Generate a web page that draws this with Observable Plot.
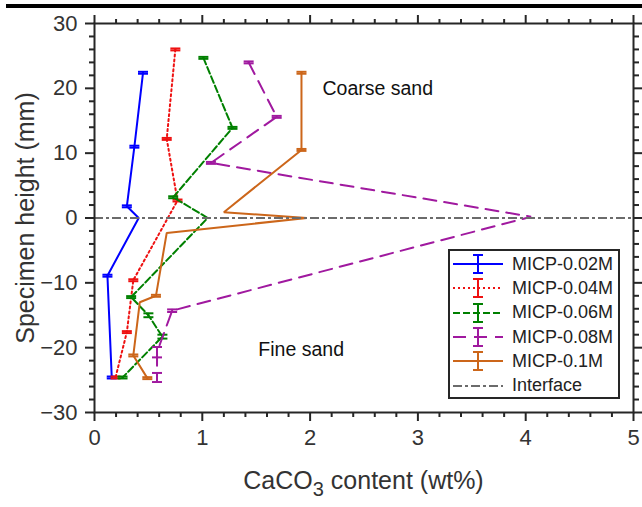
<!DOCTYPE html>
<html>
<head>
<meta charset="utf-8">
<script src="https://cdn.jsdelivr.net/npm/d3@7"></script>
<script src="https://cdn.jsdelivr.net/npm/@observablehq/plot@0.6"></script>
<style>
  body { margin: 0; background: #fff; font-family: "Liberation Sans", Arial, sans-serif; }
  #wrap { position: relative; width: 642px; height: 507px; overflow: hidden; background: #fff; }
  #wrap > svg { position: absolute; left: 0; top: 0; }
  .rule-top { position: absolute; left: 6px; top: 4px; width: 636px; height: 4px; background: #000; }
  .ytitle { position: absolute; left: 25px; top: 218px; transform: translate(-50%, -50%) rotate(-90deg);
            white-space: nowrap; font-size: 25px; line-height: 1; color: #333; }
  .xtitle { position: absolute; left: 363.5px; top: 468px; transform: translateX(-50%);
            white-space: nowrap; font-size: 25px; line-height: 1; color: #333; }
  .xtitle .sub { font-size: 0.8em; position: relative; top: 0.35em; }
  .legend { position: absolute; left: 448px; top: 249px; width: 172px; height: 150px; box-sizing: border-box;
            border: 2px solid #262626; background: #fff; padding-top: 1px; }
  .legend .row { height: 24.3px; display: flex; align-items: center; font-size: 18px; color: #222; }
  .legend .row svg { display: block; flex: none; margin-left: 3px; margin-right: 9px; }
</style>
</head>
<body>
<div id="wrap"></div>
<script>
// Concentration series and their CaCO3 profiles along the specimen height
const seriesNames = ["MICP-0.02M", "MICP-0.04M", "MICP-0.06M", "MICP-0.08M", "MICP-0.1M"];

// CaCO3 content (wt%) and height (mm) of each measured slice; err = half error bar (mm), null = no bar
const content002 = [0.45, 0.37, 0.30, 0.41, 0.12, 0.16];
const height002  = [22.4, 11.0, 1.8, 0, -8.9, -24.6];
const err002     = [0.15, 0.15, 0.15, null, 0.15, 0.15];

const content004 = [0.75, 0.67, 0.77, 0.36, 0.30, 0.195];
const height004  = [26.0, 12.2, 2.7, -9.6, -17.6, -24.6];
const err004     = [0.15, 0.15, 0.15, 0.15, 0.15, 0.15];

const content006 = [1.01, 1.28, 0.73, 1.05, 0.34, 0.50, 0.63, 0.26];
const height006  = [24.7, 13.9, 3.2, 0, -12.2, -15.0, -18.3, -24.6];
const err006     = [0.15, 0.15, 0.15, null, 0.15, 0.3, 0.3, 0.15];

const content008 = [1.43, 1.69, 1.08, 4.05, 0.72, 0.58, 0.58];
const height008  = [24.0, 15.6, 8.5, 0.2, -14.3, -20.7, -24.6];
const err008     = [0.15, 0.15, 0.15, null, 0.2, 0.8, 0.7];

const content01 = [1.92, 1.92, 1.20, 1.97, 0.67, 0.57, 0.42, 0.36, 0.49];
const height01  = [22.4, 10.5, 0.9, 0, -2.3, -12.0, -13.0, -21.2, -24.7];
const err01     = [0.15, 0.15, null, null, null, 0.15, null, 0.15, 0.15];

// Axis ticks
const xMajor = [0, 1, 2, 3, 4, 5];
const yMajor = [-30, -20, -10, 0, 10, 20, 30];
const xMinor = d3.range(0, 26).map(i => i / 5).filter(v => Math.abs(v - Math.round(v)) > 1e-9);
const yMinor = d3.range(-30, 31, 2).filter(v => v % 10 !== 0);

// Zone annotations
const zoneNotes = [
  {label: "Coarse sand", v: 2.115, h: 20.0},
  {label: "Fine sand", v: 1.52, h: -20.3}
];

// Line styles per series
const styles = [
  {stroke: "#0000ff", dash: null},
  {stroke: "#ee1111", dash: "2,3"},
  {stroke: "#008000", dash: "7,3"},
  {stroke: "#a0199f", dash: "13,8"},
  {stroke: "#cc661a", dash: null}
];
const interfaceStyle = {stroke: "#6b6b6b", dash: "9,3,3,3"};
const AXIS = "#262626";

const profiles = [
  [content002, height002, err002],
  [content004, height004, err004],
  [content006, height006, err006],
  [content008, height008, err008],
  [content01, height01, err01]
];
const rows = profiles.map(([v, h, e], i) =>
  v.map((x, j) => ({series: seriesNames[i], v: x, h: h[j], e: e[j]})));

// Horizontal cap drawn as a custom symbol (half-width = r)
const cap = {
  draw(ctx, size) {
    const w = Math.sqrt(size / Math.PI);
    ctx.moveTo(-w, 0);
    ctx.lineTo(w, 0);
  }
};

const seriesMarks = rows.flatMap((data, i) => {
  const s = styles[i];
  const bars = data.filter(d => d.e != null);
  return [
    Plot.line(data, {x: "v", y: "h", stroke: s.stroke, strokeWidth: 2,
      strokeDasharray: s.dash ?? undefined, strokeLinejoin: "miter"}),
    Plot.ruleX(bars, {x: "v", y1: d => d.h - d.e, y2: d => d.h + d.e, stroke: s.stroke, strokeWidth: 2}),
    Plot.dot(bars, {x: "v", y: d => d.h + d.e, symbol: cap, r: 5, stroke: s.stroke, strokeWidth: 2, fill: "none"}),
    Plot.dot(bars, {x: "v", y: d => d.h - d.e, symbol: cap, r: 5, stroke: s.stroke, strokeWidth: 2, fill: "none"})
  ];
});

const axisCommon = {stroke: AXIS, strokeWidth: 2, label: null};

const chart = Plot.plot({
  width: 642,
  height: 507,
  marginLeft: 94,
  marginRight: 9,
  marginTop: 23,
  marginBottom: 95,
  x: {domain: [0, 5]},
  y: {domain: [-30, 30]},
  style: {fontFamily: "'Liberation Sans', Arial, sans-serif", color: "#333", background: "transparent"},
  marks: [
    ...seriesMarks,
    Plot.ruleY([0], {stroke: interfaceStyle.stroke, strokeWidth: 2, strokeDasharray: interfaceStyle.dash}),
    Plot.text(zoneNotes, {x: "v", y: "h", text: "label", textAnchor: "start", fontSize: 19.5, fill: "#111"}),
    Plot.frame({stroke: AXIS, strokeWidth: 2}),
    Plot.axisX(xMajor, {...axisCommon, anchor: "bottom", tickSize: 9, tickPadding: 8, fontSize: 22, fill: "#333"}),
    Plot.axisX(xMinor, {...axisCommon, anchor: "bottom", tickSize: 5, fill: "none"}),
    Plot.axisX(xMajor, {...axisCommon, anchor: "top", tickSize: 9, fill: "none"}),
    Plot.axisX(xMinor, {...axisCommon, anchor: "top", tickSize: 5, fill: "none"}),
    Plot.axisY(yMajor, {...axisCommon, anchor: "left", tickSize: 9, tickPadding: 8, fontSize: 22, fill: "#333"}),
    Plot.axisY(yMinor, {...axisCommon, anchor: "left", tickSize: 5, fill: "none"}),
    Plot.axisY(yMajor, {...axisCommon, anchor: "right", tickSize: 9, fill: "none"}),
    Plot.axisY(yMinor, {...axisCommon, anchor: "right", tickSize: 5, fill: "none"})
  ]
});

const wrap = document.getElementById("wrap");
wrap.appendChild(chart);

const bar = document.createElement("div");
bar.className = "rule-top";
wrap.appendChild(bar);

const yTitle = document.createElement("div");
yTitle.className = "ytitle";
yTitle.textContent = "Specimen height (mm)";
wrap.appendChild(yTitle);

const xTitle = document.createElement("div");
xTitle.className = "xtitle";
xTitle.innerHTML = 'CaCO<span class="sub">3</span> content (wt%)';
wrap.appendChild(xTitle);

// Legend: one swatch per series with an error-bar glyph, then the interface line
const legend = document.createElement("div");
legend.className = "legend";
const entries = seriesNames.map((name, i) => ({name, ...styles[i], bar: true}))
  .concat([{name: "Interface", ...interfaceStyle, bar: false}]);
for (const e of entries) {
  const row = document.createElement("div");
  row.className = "row";
  const sw = d3.create("svg").attr("width", 50).attr("height", 24);
  sw.append("line").attr("x1", 0).attr("x2", 50).attr("y1", 12).attr("y2", 12)
    .attr("stroke", e.stroke).attr("stroke-width", 2).attr("stroke-dasharray", e.dash);
  if (e.bar) {
    sw.append("line").attr("x1", 25).attr("x2", 25).attr("y1", 3).attr("y2", 21)
      .attr("stroke", e.stroke).attr("stroke-width", 2);
    for (const y of [3, 21]) {
      sw.append("line").attr("x1", 20).attr("x2", 30).attr("y1", y).attr("y2", y)
        .attr("stroke", e.stroke).attr("stroke-width", 2);
    }
  }
  row.appendChild(sw.node());
  const label = document.createElement("span");
  label.textContent = e.name;
  row.appendChild(label);
  legend.appendChild(row);
}
wrap.appendChild(legend);
</script>
</body>
</html>
